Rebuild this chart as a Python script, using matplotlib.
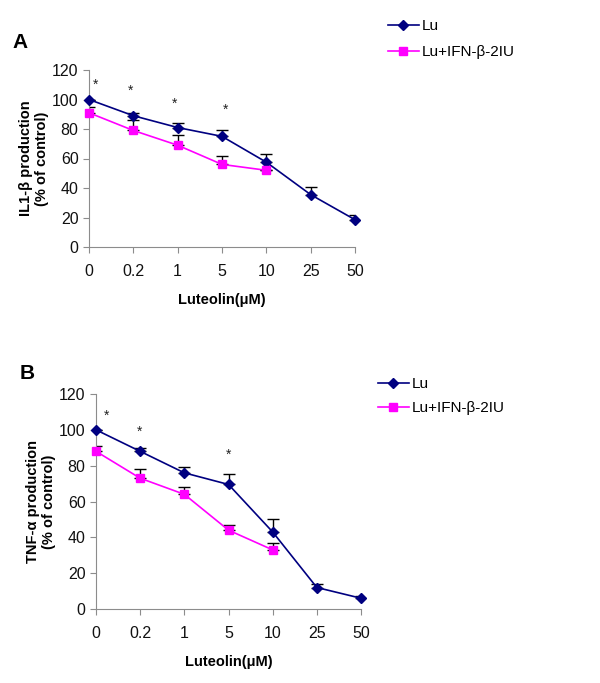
import matplotlib
matplotlib.use("Agg")
import matplotlib.pyplot as plt
import numpy as np

plt.rcParams['font.family'] = ['Liberation Sans', 'DejaVu Sans']

categories = ["0", "0.2", "1", "5", "10", "25", "50"]

# Panel A: IL1-beta
a_lu = [100, 89, 81, 75, 57.5, 35.5, 18.5]
a_lu_err = [0, 2, 3, 4, 5.5, 5.5, 3.5]
a_ifn = [91, 79, 69, 56, 52]
a_ifn_err = [4, 7, 7, 6, 0]
a_star_x = [0.14, 0.94, 1.94, 3.08]
a_star_y = [110, 106, 97, 93]

# Panel B: TNF-alpha
b_lu = [100, 88, 76, 69.5, 43, 12, 6]
b_lu_err = [0, 2, 3.5, 6, 7, 2, 1.5]
b_ifn = [88, 73, 64, 44, 33]
b_ifn_err = [3, 5, 4, 3, 4]
b_star_x = [0.24, 0.98, 2.99]
b_star_y = [108, 99, 86]

NAVY = "#000080"
MAG = "#FF00FF"
GRAY = "#8c8c8c"

fig = plt.figure(figsize=(6, 6.83), dpi=100)


def panel(rect, lu, lu_err, ifn, ifn_err, sx, sy, ylabel, letter, letter_xy, leg_xy, labspace):
    ax = fig.add_axes(rect)
    x = np.arange(len(categories))
    xi = np.arange(len(ifn))
    ax.errorbar(x, lu, yerr=[np.zeros(len(lu)), lu_err], fmt='none', ecolor='black',
                elinewidth=1, capsize=4, capthick=1, zorder=2)
    ax.errorbar(xi, ifn, yerr=[np.zeros(len(ifn)), ifn_err], fmt='none', ecolor='black',
                elinewidth=1, capsize=4, capthick=1, zorder=2)
    l1, = ax.plot(x, lu, color=NAVY, marker='D', markersize=5.5, lw=1.2, label='Lu', zorder=3)
    l2, = ax.plot(xi, ifn, color=MAG, marker='s', markersize=5.8, lw=1.2,
                  label='Lu+IFN-β-2IU', zorder=3)
    for a, b in zip(sx, sy):
        ax.text(a, b, '*', ha='center', va='center', fontsize=10, color='#222222')
    ax.set_xlim(0, 6)
    ax.set_ylim(0, 120)
    ax.set_yticks(range(0, 121, 20))
    ax.set_xticks(x)
    ax.set_xticklabels(categories)
    for s in ['top', 'right']:
        ax.spines[s].set_visible(False)
    for s in ['left', 'bottom']:
        ax.spines[s].set_color(GRAY)
        ax.spines[s].set_linewidth(0.8)
    ax.tick_params(axis='both', colors=GRAY, labelcolor='#111111', labelsize=11.5,
                   length=4, width=0.8)
    ax.tick_params(axis='x', pad=8)
    ax.set_ylabel(ylabel, fontsize=10.5, fontweight='bold', labelpad=2)
    ax.set_xlabel('Luteolin(μM)', fontsize=10.5, fontweight='bold', labelpad=10)
    ax.spines['left'].set_clip_on(False)
    ax.spines['bottom'].set_clip_on(False)
    for ln in (l1, l2):
        ln.set_clip_on(False)
    fig.text(letter_xy[0] / 600, 1 - letter_xy[1] / 683, letter, fontsize=15,
             fontweight='bold', ha='center', va='center')
    fig.legend(handles=[l1, l2], loc='upper left',
               bbox_to_anchor=(leg_xy[0] / 600, 1 - leg_xy[1] / 683),
               frameon=False, fontsize=11, handlelength=2.0, handletextpad=0.2,
               labelspacing=labspace, borderpad=0, borderaxespad=0)
    return ax


panel([89 / 600, 1 - 247 / 683, 266 / 600, 177 / 683], a_lu, a_lu_err, a_ifn, a_ifn_err,
      a_star_x, a_star_y, 'IL1-β production\n(% of control)', 'A', (20, 43), (388, 19), 0.8)
panel([96 / 600, 1 - 609 / 683, 265 / 600, 215 / 683], b_lu, b_lu_err, b_ifn, b_ifn_err,
      b_star_x, b_star_y, 'TNF-α production\n(% of control)', 'B', (27, 373), (378, 377), 0.65)

fig.savefig('out.png', dpi=100)
